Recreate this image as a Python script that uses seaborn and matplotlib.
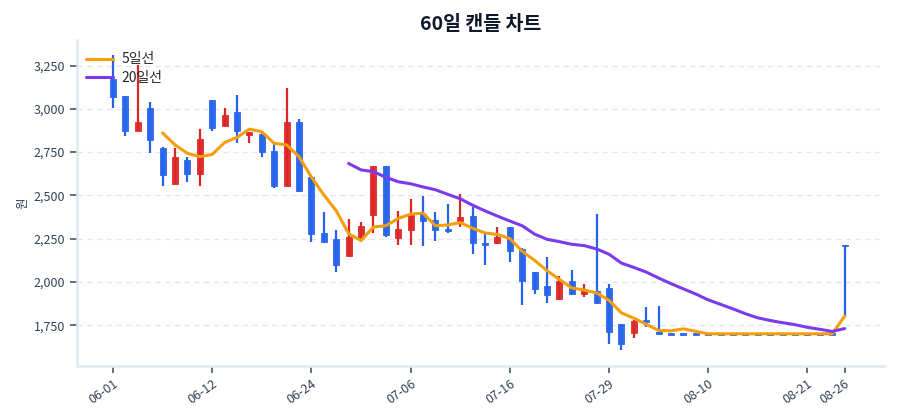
import matplotlib
matplotlib.use("Agg")
import matplotlib.pyplot as plt
import seaborn as sns
import pandas as pd
import numpy as np
from matplotlib.ticker import FuncFormatter

# 60 trading days (MM-DD)
dates = [
    "06-01", "06-02", "06-04", "06-05", "06-08", "06-09", "06-10", "06-11", "06-12",
    "06-13", "06-16", "06-17", "06-18", "06-19", "06-20", "06-23", "06-24",
    "06-25", "06-26", "06-27", "06-30", "07-01", "07-02", "07-03", "07-06",
    "07-07", "07-08", "07-09", "07-10", "07-13", "07-14", "07-15", "07-16",
    "07-17", "07-20", "07-21", "07-22", "07-23", "07-24", "07-28", "07-29",
    "07-30", "07-31", "08-03", "08-04", "08-05", "08-06", "08-07", "08-10",
    "08-11", "08-12", "08-13", "08-14", "08-18", "08-19", "08-20", "08-21",
    "08-22", "08-25", "08-26",
]

opens = [3170, 3073, 2874, 3004, 2776, 2566, 2703, 2626, 3050, 2902,
         2984, 2846, 2854, 2757, 2556, 2923, 2605, 2282, 2248, 2148,
         2252, 2387, 2668, 2252, 2302, 2392, 2358, 2306, 2354, 2379,
         2225, 2223, 2315, 2190, 2055, 1974, 1900, 2006, 1928, 1947,
         1966, 1754, 1704, 1781, 1711, 1700, 1700, 1700, 1700, 1700,
         1700, 1700, 1700, 1700, 1700, 1700, 1700, 1700, 1700, 2210]
highs = [3310, 3075, 3255, 3042, 2778, 2774, 2720, 2884, 3052, 3004,
         3077, 2868, 2861, 2797, 3120, 2942, 2607, 2402, 2300, 2363,
         2348, 2670, 2670, 2408, 2479, 2498, 2402, 2450, 2508, 2431,
         2277, 2315, 2319, 2196, 2057, 2142, 2035, 2070, 1987, 2392,
         1986, 1756, 1777, 1852, 1862, 1700, 1700, 1700, 1700, 1700,
         1700, 1700, 1700, 1700, 1700, 1700, 1700, 1700, 1700, 2215]
lows = [3005, 2845, 2872, 2744, 2556, 2563, 2576, 2556, 2873, 2900,
        2803, 2803, 2724, 2543, 2553, 2522, 2229, 2229, 2055, 2145,
        2250, 2281, 2258, 2215, 2215, 2209, 2234, 2282, 2315, 2159,
        2097, 2221, 2113, 1867, 1929, 1876, 1898, 1925, 1910, 1874,
        1640, 1605, 1677, 1742, 1700, 1700, 1700, 1700, 1700, 1700,
        1700, 1700, 1700, 1700, 1700, 1700, 1700, 1700, 1700, 1800]
closes = [3068, 2870, 2923, 2822, 2620, 2722, 2626, 2826, 2888, 2965,
          2869, 2865, 2749, 2553, 2923, 2525, 2277, 2233, 2097, 2261,
          2325, 2668, 2271, 2306, 2387, 2354, 2302, 2296, 2373, 2223,
          2218, 2261, 2176, 2006, 1958, 1924, 2006, 1928, 1947, 1876,
          1711, 1642, 1775, 1769, 1700, 1700, 1700, 1700, 1700, 1700,
          1700, 1700, 1700, 1700, 1700, 1700, 1700, 1700, 1700, 2210]

UP = "#dc2626"
DOWN = "#2563eb"

df = pd.DataFrame({"date": dates, "open": opens, "high": highs,
                   "low": lows, "close": closes})
df["x"] = np.arange(len(df))
df["ma5"] = df["close"].rolling(5).mean()
df["ma20"] = df["close"].rolling(20).mean()

sns.set_theme(style="whitegrid")
plt.rcParams["font.family"] = ["Noto Sans CJK KR", "DejaVu Sans"]

fig = plt.figure(figsize=(9, 4.2), dpi=100)
ax = fig.add_axes([0.0856, 0.129, 0.897, 0.776])

up = df["close"] > df["open"]
colors = np.where(up, UP, DOWN)
body_lo = np.minimum(df["open"], df["close"])
body_h = np.maximum((df["close"] - df["open"]).abs(), 9)

# wicks then bodies
ax.vlines(df["x"], df["low"], df["high"], colors=colors, linewidth=1.6, zorder=2)
ax.bar(df["x"], body_h, bottom=body_lo - np.where(body_h == 9, 4.5, 0),
       width=0.48, color=colors, edgecolor=colors, linewidth=0.6, alpha=0.95, zorder=3)

sns.lineplot(data=df, x="x", y="ma5", color="#f59e0b", linewidth=2.2,
             label="5일선", ax=ax, zorder=4)
sns.lineplot(data=df, x="x", y="ma20", color="#7c3aed", linewidth=2.2,
             label="20일선", ax=ax, zorder=4)

ax.set_xlim(-2.9, 62.2)
ax.set_ylim(1515, 3398)
ax.set_yticks(np.arange(1750, 3251, 250))
ax.yaxis.set_major_formatter(FuncFormatter(lambda v, p: f"{int(v):,}"))

tick_pos = list(range(0, 60, 8)) + [59]
ax.set_xticks(tick_pos)
ax.set_xticklabels([dates[i] for i in tick_pos], rotation=35, ha="right",
                   rotation_mode="anchor")

ax.grid(axis="x", visible=False)
ax.grid(axis="y", color="#e5e7eb", linestyle=(0, (4, 3)), linewidth=1)
for side in ["top", "right"]:
    ax.spines[side].set_visible(False)
for side in ["left", "bottom"]:
    ax.spines[side].set_color("#e2e8f0")
    ax.spines[side].set_linewidth(1.8)

ax.tick_params(axis="both", which="major", colors="#475569", labelsize=9,
               length=5, width=1.2, direction="out", left=True, bottom=True)
ax.tick_params(axis="both", labelcolor="#334155")

ax.set_xlabel("")
ax.set_ylabel("원", fontsize=9, color="#334155", labelpad=3)
ax.set_title("60일 캔들 차트", fontsize=14, fontweight="bold", color="#0f172a", pad=7)

ax.legend(loc="upper left", bbox_to_anchor=(-0.005, 1.0), frameon=False, fontsize=10,
          handlelength=2.0, borderaxespad=0.5, labelspacing=0.35, handletextpad=0.6)

fig.savefig("out.png", dpi=100)
